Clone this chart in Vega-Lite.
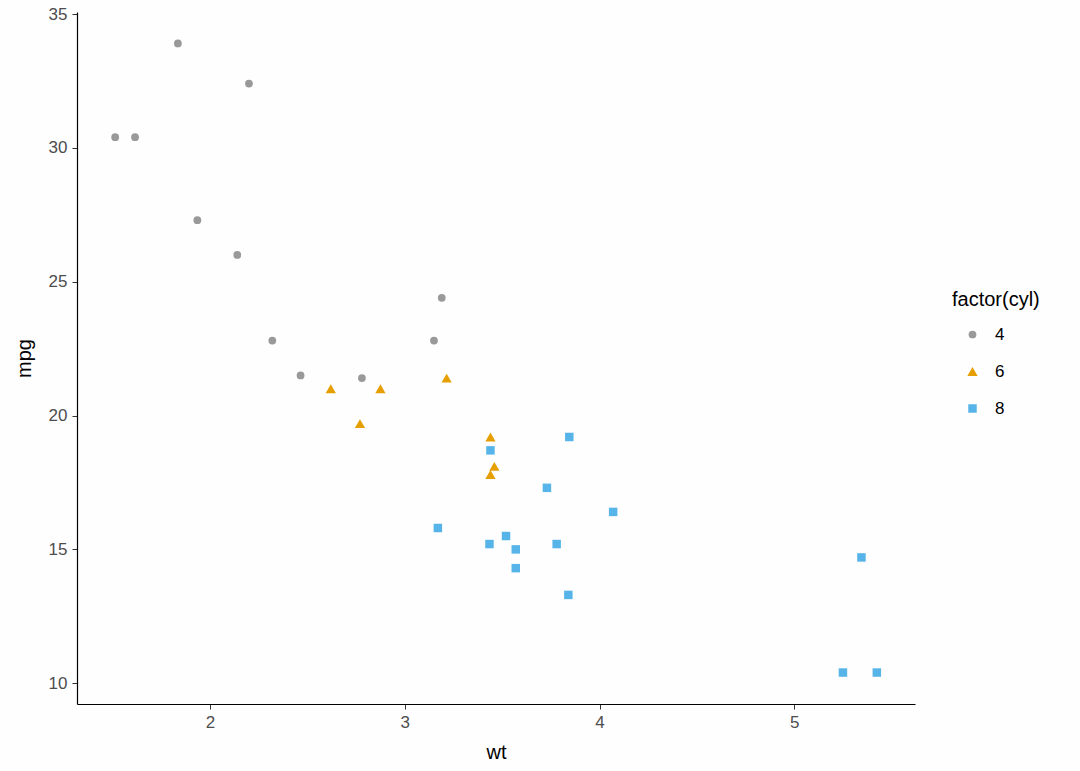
{
  "$schema": "https://vega.github.io/schema/vega-lite/v6.json",
  "width": 838,
  "height": 692,
  "autosize": {"type": "none"},
  "padding": {"left": 77, "top": 12, "right": 165, "bottom": 67},
  "background": "#FEFEFE",
  "config": {
    "view": {"stroke": null},
    "font": "Liberation Sans"
  },
  "data": {
    "values": [
      {"car": "Mazda RX4", "mpg": 21.0, "cyl": "6", "wt": 2.620},
      {"car": "Mazda RX4 Wag", "mpg": 21.0, "cyl": "6", "wt": 2.875},
      {"car": "Datsun 710", "mpg": 22.8, "cyl": "4", "wt": 2.320},
      {"car": "Hornet 4 Drive", "mpg": 21.4, "cyl": "6", "wt": 3.215},
      {"car": "Hornet Sportabout", "mpg": 18.7, "cyl": "8", "wt": 3.440},
      {"car": "Valiant", "mpg": 18.1, "cyl": "6", "wt": 3.460},
      {"car": "Duster 360", "mpg": 14.3, "cyl": "8", "wt": 3.570},
      {"car": "Merc 240D", "mpg": 24.4, "cyl": "4", "wt": 3.190},
      {"car": "Merc 230", "mpg": 22.8, "cyl": "4", "wt": 3.150},
      {"car": "Merc 280", "mpg": 19.2, "cyl": "6", "wt": 3.440},
      {"car": "Merc 280C", "mpg": 17.8, "cyl": "6", "wt": 3.440},
      {"car": "Merc 450SE", "mpg": 16.4, "cyl": "8", "wt": 4.070},
      {"car": "Merc 450SL", "mpg": 17.3, "cyl": "8", "wt": 3.730},
      {"car": "Merc 450SLC", "mpg": 15.2, "cyl": "8", "wt": 3.780},
      {"car": "Cadillac Fleetwood", "mpg": 10.4, "cyl": "8", "wt": 5.250},
      {"car": "Lincoln Continental", "mpg": 10.4, "cyl": "8", "wt": 5.424},
      {"car": "Chrysler Imperial", "mpg": 14.7, "cyl": "8", "wt": 5.345},
      {"car": "Fiat 128", "mpg": 32.4, "cyl": "4", "wt": 2.200},
      {"car": "Honda Civic", "mpg": 30.4, "cyl": "4", "wt": 1.615},
      {"car": "Toyota Corolla", "mpg": 33.9, "cyl": "4", "wt": 1.835},
      {"car": "Toyota Corona", "mpg": 21.5, "cyl": "4", "wt": 2.465},
      {"car": "Dodge Challenger", "mpg": 15.5, "cyl": "8", "wt": 3.520},
      {"car": "AMC Javelin", "mpg": 15.2, "cyl": "8", "wt": 3.435},
      {"car": "Camaro Z28", "mpg": 13.3, "cyl": "8", "wt": 3.840},
      {"car": "Pontiac Firebird", "mpg": 19.2, "cyl": "8", "wt": 3.845},
      {"car": "Fiat X1-9", "mpg": 27.3, "cyl": "4", "wt": 1.935},
      {"car": "Porsche 914-2", "mpg": 26.0, "cyl": "4", "wt": 2.140},
      {"car": "Lotus Europa", "mpg": 30.4, "cyl": "4", "wt": 1.513},
      {"car": "Ford Pantera L", "mpg": 15.8, "cyl": "8", "wt": 3.170},
      {"car": "Ferrari Dino", "mpg": 19.7, "cyl": "6", "wt": 2.770},
      {"car": "Maserati Bora", "mpg": 15.0, "cyl": "8", "wt": 3.570},
      {"car": "Volvo 142E", "mpg": 21.4, "cyl": "4", "wt": 2.780}
    ]
  },
  "mark": {"type": "point", "filled": true, "opacity": 1},
  "encoding": {
    "x": {
      "field": "wt", "type": "quantitative", "title": "wt",
      "scale": {"domain": [1.317, 5.620], "nice": false, "zero": false},
      "axis": {
        "values": [2, 3, 4, 5], "grid": false, "domainColor": "#000000", "domainWidth": 1.2,
        "tickColor": "#333333", "tickSize": 5, "labelColor": "#4D4D4D", "labelFontSize": 17,
        "labelPadding": 5, "titleFontSize": 20, "titleFontWeight": "normal", "titleColor": "#000000",
        "titlePadding": 12
      }
    },
    "y": {
      "field": "mpg", "type": "quantitative", "title": "mpg",
      "scale": {"domain": [9.225, 35.075], "nice": false, "zero": false},
      "axis": {
        "values": [10, 15, 20, 25, 30, 35], "grid": false, "domainColor": "#000000", "domainWidth": 1.2,
        "tickColor": "#333333", "tickSize": 5, "labelColor": "#4D4D4D", "labelFontSize": 17,
        "labelPadding": 5, "titleFontSize": 20, "titleFontWeight": "normal", "titleColor": "#000000",
        "titlePadding": 14
      }
    },
    "color": {
      "field": "cyl", "type": "nominal", "title": "factor(cyl)",
      "scale": {"domain": ["4", "6", "8"], "range": ["#999999", "#E69F00", "#56B4E9"]},
      "legend": {
        "orient": "none", "legendX": 875, "legendY": 278,
        "titleFontSize": 20, "titleFontWeight": "normal", "titleColor": "#000000", "titlePadding": 16,
        "labelFontSize": 17, "labelColor": "#000000", "labelOffset": 14,
        "rowPadding": 19, "symbolOffset": 12
      }
    },
    "shape": {
      "field": "cyl", "type": "nominal", "title": "factor(cyl)",
      "scale": {"domain": ["4", "6", "8"], "range": ["circle", "triangle-up", "square"]}
    },
    "size": {
      "field": "cyl", "type": "nominal", "title": "factor(cyl)",
      "scale": {"type": "ordinal", "domain": ["4", "6", "8"], "range": [60, 105, 72]}
    }
  }
}
